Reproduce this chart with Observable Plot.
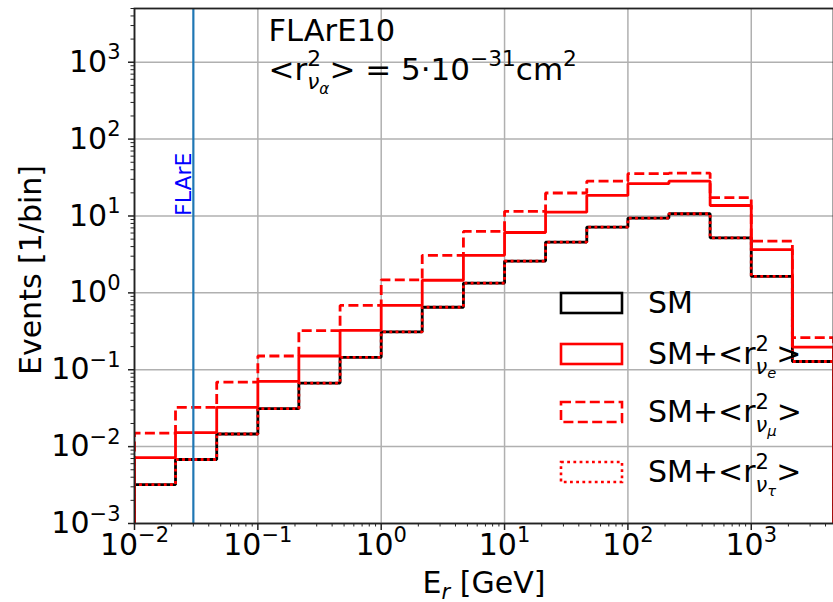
<!DOCTYPE html>
<html>
<head>
<meta charset="utf-8">
<script src="https://cdn.jsdelivr.net/npm/d3@7"></script>
<script src="https://cdn.jsdelivr.net/npm/@observablehq/plot@0.6"></script>
<style>
  html, body { margin: 0; padding: 0; background: #fff; }
  #chart { width: 833px; height: 602px; }
</style>
</head>
<body>
<div id="chart"></div>
<script>
// Recoil-energy bin edges in GeV (three bins per decade)
const binEdges = [0.01, 0.0215, 0.0464, 0.1, 0.215, 0.464, 1, 2.15, 4.64, 10, 21.5, 46.4, 100, 215, 464, 1000, 2154, 4642];

// Expected events per bin
const eventsSM    = [0.0032, 0.0068, 0.0146, 0.0312, 0.067, 0.145, 0.31, 0.65, 1.34, 2.59, 4.58, 7.17, 9.4, 10.7, 5.2, 1.64, 0.128];
const eventsNuE   = [0.0072, 0.0152, 0.0324, 0.0706, 0.151, 0.325, 0.687, 1.46, 3.08, 6.1, 11.2, 18.5, 26.3, 28.4, 13.7, 3.65, 0.197];
const eventsNuMu  = [0.0150, 0.0324, 0.0692, 0.151, 0.322, 0.687, 1.48, 3.08, 6.3, 11.5, 19.9, 28.4, 35.5, 36.1, 17.3, 4.72, 0.261];
const eventsNuTau = [0.0032, 0.0068, 0.0146, 0.0312, 0.067, 0.145, 0.31, 0.65, 1.34, 2.59, 4.58, 7.17, 9.4, 10.7, 5.2, 1.64, 0.128];

// Labels (^{..} superscript, _{..} subscript, $..$ italic)
const seriesLabels = ["SM", "SM+<r^{2}_{$ν$_{$e$}}>", "SM+<r^{2}_{$ν$_{$μ$}}>", "SM+<r^{2}_{$ν$_{$τ$}}>"];
const titleLines = ["FLArE10", "<r^{2}_{$ν$_{$α$}}> = 5·10^{−31}cm^{2}"];
const xLabel = "E_{$r$} [GeV]";
const yLabel = "Events [1/bin]";

// Detector threshold marker
const flareThreshold = 0.03;
const flareLabel = "FLArE";
const flareLabelY = 10;

// Axes
const xMajorTicks = [1e-2, 1e-1, 1, 10, 100, 1000];
const yMajorTicks = [1e-3, 1e-2, 1e-1, 1, 10, 100, 1000];
const yDomain = [1e-3, 5e3];
const xDomain = [binEdges[0], binEdges[binEdges.length - 1]];

function minorTicks(majors, domain) {
  const out = [];
  for (const d of [majors[0] / 10, ...majors]) {
    for (let m = 2; m <= 9; m++) {
      const v = m * d;
      if (v > domain[0] && v <= domain[1]) out.push(v);
    }
  }
  return out;
}
const xMinorTicks = minorTicks(xMajorTicks, xDomain);
const yMinorTicks = minorTicks(yMajorTicks, yDomain);

const series = [
  {values: eventsSM,    stroke: "#000000", dash: undefined},
  {values: eventsNuE,   stroke: "#ff0000", dash: undefined},
  {values: eventsNuMu,  stroke: "#ff0000", dash: "10,4.4"},
  {values: eventsNuTau, stroke: "#ff0000", dash: "2.8,3.4"}
];

// Outline of a step histogram, closed down to the bottom of the axis
function stepPoints(values) {
  const pts = [{x: binEdges[0], y: yDomain[0]}];
  values.forEach((v, i) => {
    pts.push({x: binEdges[i], y: v}, {x: binEdges[i + 1], y: v});
  });
  pts.push({x: binEdges[binEdges.length - 1], y: yDomain[0]});
  return pts;
}

const powerLabel = (v) => "10^{" + String(Math.round(Math.log10(v))).replace("-", "−") + "}";
const FONT = "DejaVu Sans";
const FS = 30;

const chart = Plot.plot({
  width: 833,
  height: 602,
  marginLeft: 134,
  marginRight: 0,
  marginTop: 8,
  marginBottom: 79,
  style: {fontFamily: FONT, fontSize: FS + "px", background: "#ffffff", color: "#000"},
  x: {type: "log", domain: xDomain},
  y: {type: "log", domain: yDomain},
  marks: [
    Plot.gridX(xMajorTicks, {stroke: "#b0b0b0", strokeOpacity: 1, strokeWidth: 1.5}),
    Plot.gridY(yMajorTicks, {stroke: "#b0b0b0", strokeOpacity: 1, strokeWidth: 1.5}),
    ...series.map(s => Plot.line(stepPoints(s.values), {
      x: "x", y: "y", stroke: s.stroke, strokeWidth: 2.8,
      strokeDasharray: s.dash, strokeLinecap: "butt", strokeLinejoin: "miter", clip: true
    })),
    Plot.ruleX([flareThreshold], {stroke: "#1f77b4", strokeWidth: 2.2}),
    Plot.text([flareLabel], {
      x: () => flareThreshold, y: () => flareLabelY, text: d => d,
      rotate: -90, textAnchor: "start", lineAnchor: "bottom", dx: -2,
      fill: "#0000ff", fontSize: 22
    }),
    Plot.text([titleLines[0]], {text: d => d, frameAnchor: "top-left", dx: 134, dy: 32, lineAnchor: "bottom", textAnchor: "start", fontSize: 30.5}),
    Plot.text([titleLines[1]], {text: d => d, frameAnchor: "top-left", dx: 134, dy: 71, lineAnchor: "bottom", textAnchor: "start", fontSize: 31}),
    Plot.text([yLabel], {text: d => d, frameAnchor: "left", rotate: -90, dx: -94, dy: 4, lineAnchor: "bottom", textAnchor: "middle", fontSize: FS}),
    Plot.text([xLabel], {text: d => d, frameAnchor: "bottom", dy: 69, lineAnchor: "bottom", textAnchor: "middle", fontSize: FS}),
    Plot.frame({stroke: "#222", strokeWidth: 1.8}),
    Plot.axisX({ticks: xMajorTicks, tickSize: 7, tickPadding: 3, tickFormat: powerLabel, label: null, stroke: "#222", strokeWidth: 1.5, fontSize: FS}),
    Plot.axisX({ticks: xMinorTicks, tickSize: 3.5, tickFormat: () => "", label: null, stroke: "#222", strokeWidth: 1}),
    Plot.axisY({ticks: yMajorTicks, tickSize: 6, tickPadding: 8, tickFormat: powerLabel, label: null, stroke: "#222", strokeWidth: 1.5, fontSize: FS}),
    Plot.axisY({ticks: yMinorTicks, tickSize: 3.5, tickFormat: () => "", label: null, stroke: "#222", strokeWidth: 1})
  ]
});

document.getElementById("chart").appendChild(chart);

// Legend drawn inside the plot area, lower right
const svg = d3.select(chart);
const legend = svg.append("g")
  .attr("font-family", FONT).attr("font-size", 30)
  .attr("fill", "#000").attr("text-anchor", "start");
const legendBaselines = [313, 364, 422, 482];
series.forEach((s, k) => {
  const base = legendBaselines[k];
  legend.append("rect")
    .attr("x", 561).attr("y", base - 20).attr("width", 61).attr("height", 20)
    .attr("fill", "none").attr("stroke", s.stroke).attr("stroke-width", 2.6)
    .attr("stroke-dasharray", s.dash || null);
  legend.append("text").attr("x", 648).attr("y", base).text(seriesLabels[k]);
});

// Turn the lightweight markup into tspans with super/subscripts
function parseRich(s, fs) {
  const runs = [];
  let i = 0, italic = false;
  function group(size, shift) {
    let buf = "", lastSup = null;
    const flush = () => {
      if (buf) { runs.push({text: buf, size, shift, italic}); buf = ""; lastSup = null; }
    };
    while (i < s.length) {
      const c = s[i];
      if (c === "}") { i++; break; }
      if (c === "$") { flush(); italic = !italic; i++; continue; }
      if ((c === "^" || c === "_") && s[i + 1] === "{") {
        flush();
        i += 2;
        const start = runs.length;
        if (c === "^") {
          group(size * 0.7, shift - 0.42 * size);
          lastSup = runs.slice(start);
        } else {
          const stacked = lastSup;
          group(size * 0.7, shift + (stacked ? 0.32 : 0.2) * size);
          if (stacked && runs[start]) runs[start].back = stacked;
          lastSup = null;
        }
        continue;
      }
      buf += c;
      i++;
    }
    flush();
  }
  group(fs, 0);
  return runs;
}

function renderRich(el) {
  const s = el.textContent;
  if (!/[\^_]\{|\$/.test(s)) return;
  const fs = parseFloat(getComputedStyle(el).fontSize) || FS;
  const runs = parseRich(s, fs);
  el.textContent = "";
  let cur = 0;
  for (const r of runs) {
    const t = document.createElementNS("http://www.w3.org/2000/svg", "tspan");
    t.textContent = r.text;
    t.style.fontSize = r.size + "px";
    if (r.italic) t.setAttribute("font-style", "italic");
    if (r.shift !== cur) t.setAttribute("dy", r.shift - cur);
    cur = r.shift;
    el.appendChild(t);
    r.el = t;
  }
  for (const r of runs) {
    if (r.back) {
      const w = d3.sum(r.back, b => b.el.getComputedTextLength());
      r.el.setAttribute("dx", -w);
    }
  }
}

chart.querySelectorAll("text").forEach(renderRich);
</script>
</body>
</html>
